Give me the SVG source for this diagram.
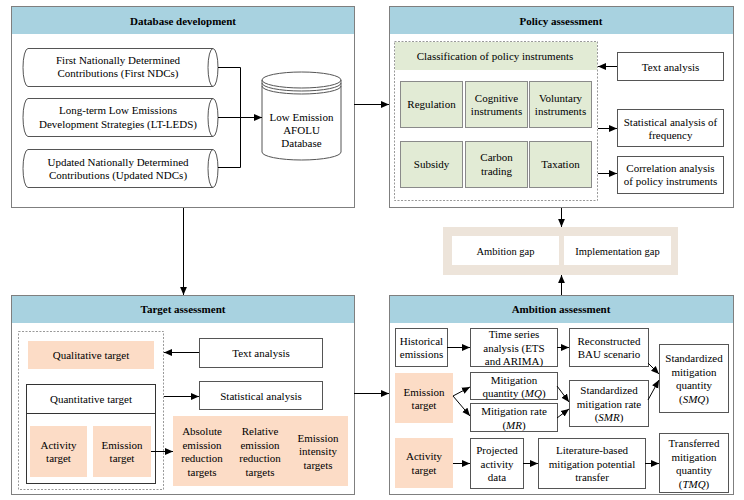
<svg xmlns="http://www.w3.org/2000/svg" width="744" height="500" viewBox="0 0 744 500" font-family="'Liberation Serif', 'Times New Roman', serif">
<defs>
<marker id="ah" viewBox="0 0 8 8" refX="8" refY="4" markerWidth="8" markerHeight="8" markerUnits="userSpaceOnUse" orient="auto">
<path d="M0,0.6 L8,4 L0,7.4 Z" fill="#000"/>
</marker>
<style>
text{font-family:'Liberation Serif','Times New Roman',serif;font-size:11px;fill:#000;text-anchor:middle;dominant-baseline:central}
.hd{font-weight:bold}
.panel{fill:#fff;stroke:#7f7f7f;stroke-width:1}
.hdr{fill:#a8d2e0;stroke:none}
.box{fill:#fff;stroke:#555;stroke-width:1}
.grn{fill:#e2ebd5;stroke:#8a8a8a;stroke-width:1}
.grnh{fill:#e2ebd5;stroke:none}
.pch{fill:#fcdcc6;stroke:none}
.dash{fill:none;stroke:#999;stroke-width:1;stroke-dasharray:2,1.5}
.cyl{fill:#fff;stroke:#555;stroke-width:1}
.ln{fill:none;stroke:#000;stroke-width:1}
.ar{fill:none;stroke:#000;stroke-width:1;marker-end:url(#ah)}
</style>
</defs>
<rect width="744" height="500" fill="#fff"/>

<!-- Database development panel -->
<g id="panel-database">
<rect class="panel" x="11.5" y="6.5" width="343" height="201"/>
<rect class="hdr" x="12" y="7" width="342" height="27"/>
<text class="hd" x="183" y="20.5">Database development</text>
</g>
<g id="cyl-first-ndc">
<path class="cyl" d="M28,48.5 L213,48.5 A5,19 0 0 1 213,86.5 L28,86.5 A5,19 0 0 1 28,48.5 Z M213,48.5 A5,19 0 0 0 213,86.5"/>
<text x="118" y="60">First Nationally Determined</text>
<text x="118" y="73">Contributions (First NDCs)</text>
</g>
<g id="cyl-lt-leds">
<path class="cyl" d="M28,98.5 L213,98.5 A5,19 0 0 1 213,136.5 L28,136.5 A5,19 0 0 1 28,98.5 Z M213,98.5 A5,19 0 0 0 213,136.5"/>
<text x="118" y="110">Long-term Low Emissions</text>
<text x="118" y="124">Development Strategies (LT-LEDS)</text>
</g>
<g id="cyl-updated-ndc">
<path class="cyl" d="M28,149.5 L213,149.5 A5,19 0 0 1 213,187.5 L28,187.5 A5,19 0 0 1 28,149.5 Z M213,149.5 A5,19 0 0 0 213,187.5"/>
<text x="118" y="162">Updated Nationally Determined</text>
<text x="118" y="175">Contributions (Updated NDCs)</text>
</g>
<g id="db-afolu">
<path class="cyl" d="M262,80 A39.5,8 0 0 1 341,80 L341,152 A39.5,8 0 0 1 262,152 Z"/>
<path class="ln" style="stroke:#555" d="M262,80 A39.5,8 0 0 0 341,80 M262,83 A39.5,8 0 0 0 341,83 M262,86 A39.5,8 0 0 0 341,86"/>
<text x="301.5" y="117">Low Emission</text>
<text x="301.5" y="130">AFOLU</text>
<text x="301.5" y="143">Database</text>
</g>

<!-- Policy assessment panel -->
<g id="panel-policy">
<rect class="panel" x="389.5" y="6.5" width="344" height="201"/>
<rect class="hdr" x="390" y="7" width="343" height="27"/>
<text class="hd" x="561" y="20.5">Policy assessment</text>
</g>
<g id="policy-classification">
<rect class="dash" x="394.5" y="41.5" width="203" height="159"/>
<rect class="grnh" x="395" y="42" width="202" height="28"/>
<text x="495" y="56">Classification of policy instruments</text>
</g>
<g id="pi-regulation"><rect class="grn" x="400.5" y="81.5" width="62" height="46"/><text x="431.5" y="104">Regulation</text></g>
<g id="pi-cognitive"><rect class="grn" x="465.5" y="81.5" width="62" height="46"/><text x="496.5" y="98">Cognitive</text><text x="496.5" y="111">instruments</text></g>
<g id="pi-voluntary"><rect class="grn" x="529.5" y="81.5" width="62" height="46"/><text x="560.5" y="98">Voluntary</text><text x="560.5" y="111">instruments</text></g>
<g id="pi-subsidy"><rect class="grn" x="400.5" y="141.5" width="62" height="46"/><text x="431.5" y="164">Subsidy</text></g>
<g id="pi-carbon"><rect class="grn" x="465.5" y="141.5" width="62" height="46"/><text x="496.5" y="157">Carbon</text><text x="496.5" y="171">trading</text></g>
<g id="pi-taxation"><rect class="grn" x="529.5" y="141.5" width="62" height="46"/><text x="560.5" y="164">Taxation</text></g>
<g id="pa-text"><rect class="box" x="617.5" y="52.5" width="106" height="28"/><text x="670.5" y="66.5">Text analysis</text></g>
<g id="pa-stat"><rect class="box" x="617.5" y="109.5" width="106" height="37"/><text x="670.5" y="122">Statistical analysis of</text><text x="670.5" y="135">frequency</text></g>
<g id="pa-corr"><rect class="box" x="617.5" y="156.5" width="106" height="37"/><text x="670.5" y="168">Correlation analysis</text><text x="670.5" y="181">of policy instruments</text></g>

<!-- Gap box -->
<g id="gap">
<rect x="443" y="227" width="235" height="48" fill="#ede4da"/>
<rect x="452" y="236" width="107" height="29" fill="#fff"/>
<rect x="564" y="236" width="107" height="29" fill="#fff"/>
<text x="505.5" y="251" style="font-size:10.5px">Ambition gap</text>
<text x="617.5" y="251" style="font-size:10.5px">Implementation gap</text>
</g>

<!-- Target assessment panel -->
<g id="panel-target">
<rect class="panel" x="11.5" y="295.5" width="343" height="199"/>
<rect class="hdr" x="12" y="296" width="342" height="27"/>
<text class="hd" x="183" y="309">Target assessment</text>
</g>
<g id="ta-group">
<rect class="dash" x="18.5" y="331.5" width="145" height="158"/>
</g>
<g id="ta-qualitative"><rect class="pch" x="28" y="341" width="126" height="28"/><text x="91" y="355">Qualitative target</text></g>
<g id="ta-quantitative">
<rect class="box" x="26.5" y="384.5" width="129" height="99" style="stroke:#333"/>
<line x1="26.5" y1="413.5" x2="155.5" y2="413.5" stroke="#333"/>
<text x="91" y="399">Quantitative target</text>
</g>
<g id="ta-activity"><rect class="pch" x="30" y="426" width="57" height="51"/><text x="58.5" y="444.5">Activity</text><text x="58.5" y="458">target</text></g>
<g id="ta-emission"><rect class="pch" x="93" y="426" width="58" height="51"/><text x="122" y="444.5">Emission</text><text x="122" y="458">target</text></g>
<g id="ta-text"><rect class="box" x="199.5" y="338.5" width="123" height="29"/><text x="261" y="353">Text analysis</text></g>
<g id="ta-stat"><rect class="box" x="199.5" y="381.5" width="123" height="28"/><text x="261" y="395.5">Statistical analysis</text></g>
<g id="ta-types">
<rect class="pch" x="173" y="416" width="175" height="70"/>
<text x="202" y="431">Absolute</text><text x="202" y="444.5">emission</text><text x="202" y="458">reduction</text><text x="202" y="471.5">targets</text>
<text x="260" y="431">Relative</text><text x="260" y="444.5">emission</text><text x="260" y="458">reduction</text><text x="260" y="471.5">targets</text>
<text x="318" y="437.5">Emission</text><text x="318" y="451">intensity</text><text x="318" y="464.5">targets</text>
</g>

<!-- Ambition assessment panel -->
<g id="panel-ambition">
<rect class="panel" x="389.5" y="295.5" width="344" height="199"/>
<rect class="hdr" x="390" y="296" width="343" height="27"/>
<text class="hd" x="561" y="309">Ambition assessment</text>
</g>
<g id="aa-historical"><rect class="box" x="395.5" y="328.5" width="52" height="38"/><text x="421.5" y="341">Historical</text><text x="421.5" y="354">emissions</text></g>
<g id="aa-timeseries"><rect class="box" x="470.5" y="328.5" width="87" height="38"/><text x="514" y="334">Time series</text><text x="514" y="347.5">analysis (ETS</text><text x="514" y="361">and ARIMA)</text></g>
<g id="aa-bau"><rect class="box" x="569.5" y="328.5" width="79" height="38"/><text x="609" y="341">Reconstructed</text><text x="609" y="354">BAU scenario</text></g>
<g id="aa-smq"><rect class="box" x="659.5" y="344.5" width="69" height="68"/><text x="694" y="358">Standardized</text><text x="694" y="371.5">mitigation</text><text x="694" y="385">quantity</text><text x="694" y="398.5">(<tspan font-style="italic">SMQ</tspan>)</text></g>
<g id="aa-emission"><rect class="pch" x="395" y="373" width="58" height="50"/><text x="424" y="391.5">Emission</text><text x="424" y="405">target</text></g>
<g id="aa-mq"><rect class="box" x="470.5" y="372.5" width="87" height="27"/><text x="514" y="379.5">Mitigation</text><text x="514" y="393">quantity (<tspan font-style="italic">MQ</tspan>)</text></g>
<g id="aa-mr"><rect class="box" x="470.5" y="403.5" width="87" height="28"/><text x="514" y="411">Mitigation rate</text><text x="514" y="425">(<tspan font-style="italic">MR</tspan>)</text></g>
<g id="aa-smr"><rect class="box" x="569.5" y="380.5" width="79" height="46"/><text x="609" y="390">Standardized</text><text x="609" y="403.5">mitigation rate</text><text x="609" y="417">(<tspan font-style="italic">SMR</tspan>)</text></g>
<g id="aa-activity"><rect class="pch" x="395" y="438" width="58" height="50"/><text x="424" y="456">Activity</text><text x="424" y="470">target</text></g>
<g id="aa-projected"><rect class="box" x="470.5" y="438.5" width="53" height="50"/><text x="497" y="450">Projected</text><text x="497" y="463.5">activity</text><text x="497" y="477">data</text></g>
<g id="aa-literature"><rect class="box" x="538.5" y="438.5" width="107" height="50"/><text x="592" y="450">Literature-based</text><text x="592" y="463.5">mitigation potential</text><text x="592" y="477">transfer</text></g>
<g id="aa-tmq"><rect class="box" x="659.5" y="433.5" width="69" height="59"/><text x="694" y="443">Transferred</text><text x="694" y="456.5">mitigation</text><text x="694" y="470">quantity</text><text x="694" y="483.5">(<tspan font-style="italic">TMQ</tspan>)</text></g>

<!-- Connectors -->
<g id="connectors">
<path class="ln" d="M218,67.5 H240.5 V167.5 H218"/>
<path class="ar" d="M218,117.5 H262"/>
<path class="ar" d="M354,104.5 H389"/>
<path class="ar" d="M617,66.5 H598"/>
<path class="ar" d="M598,128.5 H617"/>
<path class="ar" d="M598,173.5 H617"/>
<path class="ar" d="M561.5,208 V227"/>
<path class="ar" d="M561.5,295 V275"/>
<path class="ar" d="M183.5,208 V295"/>
<path class="ar" d="M199,352.5 H164"/>
<path class="ar" d="M164,396.5 H199"/>
<path class="ar" d="M151,451.5 H173"/>
<path class="ar" d="M354,393.5 H389"/>
<path class="ar" d="M447,347.5 H470"/>
<path class="ar" d="M557,347.5 H569"/>
<path class="ar" d="M648,363 L659,374"/>
<path class="ar" d="M648,400 L659,380"/>
<path class="ar" d="M453,396 L470,387"/>
<path class="ar" d="M453,396 L470,416"/>
<path class="ar" d="M557,386 L569,402"/>
<path class="ar" d="M557,418 L569,409"/>
<path class="ar" d="M453,463.5 H470"/>
<path class="ar" d="M523,463.5 H538"/>
<path class="ar" d="M645,463.5 H659"/>
</g>
</svg>
